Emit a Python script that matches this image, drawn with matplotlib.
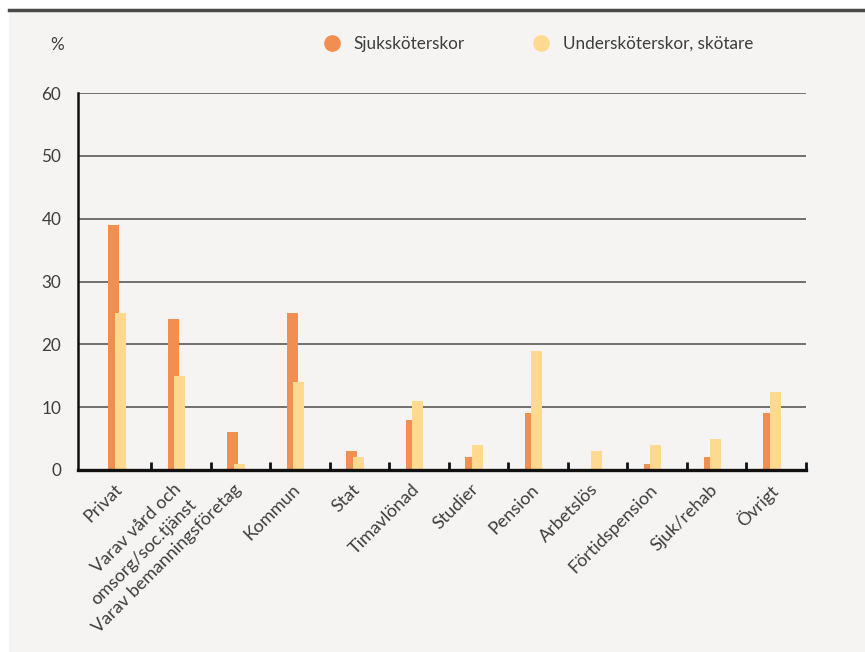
import numpy as np
from matplotlib import pyplot as plt
from matplotlib.patches import Rectangle
from matplotlib.lines import Line2D

plt.rcParams['font.family'] = ['Lato', 'DejaVu Sans']

categories = ['Privat', 'Varav vård och\nomsorg/soc.tjänst', 'Varav bemanningsföretag',
              'Kommun', 'Stat', 'Timavlönad', 'Studier', 'Pension', 'Arbetslös',
              'Förtidspension', 'Sjuk/rehab', 'Övrigt']
sjukskoterskor = [39, 24, 6, 25, 3, 8, 2, 9, 0, 1, 2, 9]
underskoterskor = [25, 15, 1, 14, 2, 11, 4, 19, 3, 4, 5, 12.4]
series_names = ['Sjuksköterskor', 'Undersköterskor, skötare']

ORANGE = '#F28E4F'
YELLOW = '#FFD98F'
BG = '#F5F4F2'
TXT = '#3d3d3d'
FS = 12.3

fig = plt.figure(figsize=(8.65, 6.52), dpi=100)
fig.patch.set_facecolor('white')

# grey panel with a dark rule along the top
fig.patches.append(Rectangle((9 / 865, 0), 1 - 9 / 865, 642 / 652, transform=fig.transFigure,
                             facecolor=BG, edgecolor='none', zorder=-2))
fig.lines.append(Line2D([9 / 865, 1], [642 / 652, 642 / 652], transform=fig.transFigure,
                        color='#4a4a4a', lw=2.5, zorder=-1))

ax = fig.add_axes([78 / 865, 182 / 652, 728 / 865, 377 / 652])
ax.set_facecolor('none')
ax.set_zorder(2)

x = np.arange(len(categories))
w = 0.185
ax.bar(x - 0.127, sjukskoterskor, w, color=ORANGE, zorder=3)
ax.bar(x - 0.02, underskoterskor, w, color=YELLOW, zorder=4)

ax.set_xlim(-0.728, 11.5)
ax.set_ylim(0, 60)
ax.set_yticks(np.arange(0, 61, 10))
for v in range(10, 61, 10):
    ax.axhline(v, color='#666666', lw=1.3, zorder=1)

ax.tick_params(axis='y', length=0, pad=12, labelsize=FS, labelcolor=TXT)
ax.set_xticks(x - 0.13)
ax.set_xticklabels(categories, rotation=45, ha='right', va='top', rotation_mode='anchor',
                   fontsize=13, color=TXT, linespacing=1.45)
ax.tick_params(axis='x', which='major', length=0, pad=8)
ax.set_xticks(x + 0.5, minor=True)
ax.tick_params(axis='x', which='minor', direction='in', length=6, width=2, color='#111111')

for side in ['top', 'right']:
    ax.spines[side].set_visible(False)
ax.spines['left'].set_linewidth(1.8)
ax.spines['bottom'].set_linewidth(2.4)
ax.spines['left'].set_color('#111111')
ax.spines['bottom'].set_color('#111111')
ax.spines['bottom'].set_zorder(5)

fig.text(57 / 865, 1 - 45 / 652, '%', ha='center', va='center', fontsize=FS, color=TXT)

# legend drawn as dots and text along the top
for cx, tx, col, name in [(332, 353, ORANGE, series_names[0]), (541, 563, YELLOW, series_names[1])]:
    fig.lines.append(Line2D([cx / 865], [1 - 43 / 652], transform=fig.transFigure, marker='o',
                            markersize=11, color=col, lw=0))
    fig.text(tx / 865, 1 - 44 / 652, name, ha='left', va='center', fontsize=FS, color=TXT)

plt.savefig('out.png', dpi=100, facecolor=fig.get_facecolor())
